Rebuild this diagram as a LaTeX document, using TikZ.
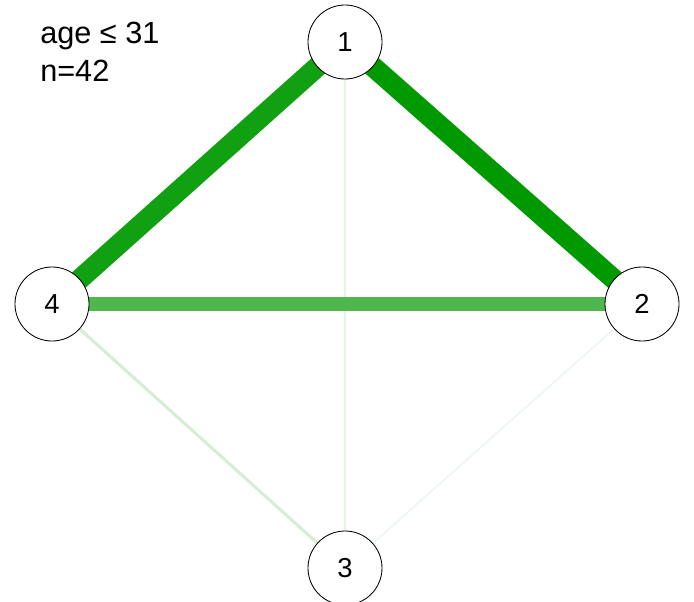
\documentclass[tikz,border=0pt]{standalone}
\usepackage{fontspec}
\setmainfont{Liberation Sans}
\usepackage{xcolor}
\usetikzlibrary{backgrounds}

\definecolor{edgeA}{RGB}{0,153,0}
\definecolor{edgeB}{RGB}{17,160,17}
\definecolor{edgeC}{RGB}{78,184,78}
\definecolor{edgeD}{RGB}{214,237,214}
\definecolor{edgeE}{RGB}{230,244,230}
\definecolor{edgeF}{RGB}{236,246,236}

\tikzset{
  vertex/.style={circle, draw=black, semithick, fill=white, minimum size=1.85cm, inner sep=0pt, font=\fontsize{19.5}{22}\selectfont},
  netedge/.style={line cap=butt}
}

\begin{document}
\begin{tikzpicture}[x=0.025cm, y=-0.025cm]

% Frame
\useasboundingbox (0,0) rectangle (694,602);

% Split label
\node[anchor=west, font=\fontsize{21.8}{27}\selectfont, align=left, inner sep=0pt] (info) at (40,52) {age ≤ 31\\n=42};

% Vertices
\node[vertex] (v1) at (345,42) {1};
\node[vertex] (v2) at (642,304) {2};
\node[vertex] (v3) at (345,568) {3};
\node[vertex] (v4) at (52,304) {4};

% Edges (weights as width and shade)
\begin{scope}[on background layer]
\draw[netedge, edgeF, line width=1.1pt] (v2.center) -- (v3.center);
\draw[netedge, edgeE, line width=1.4pt] (v1.center) -- (v3.center);
\draw[netedge, edgeD, line width=2.2pt] (v4.center) -- (v3.center);
\draw[netedge, edgeC, line width=10pt] (v4.center) -- (v2.center);
\draw[netedge, edgeB, line width=14.5pt] (v1.center) -- (v4.center);
\draw[netedge, edgeA, line width=14.5pt] (v1.center) -- (v2.center);
\end{scope}

\end{tikzpicture}
\end{document}
